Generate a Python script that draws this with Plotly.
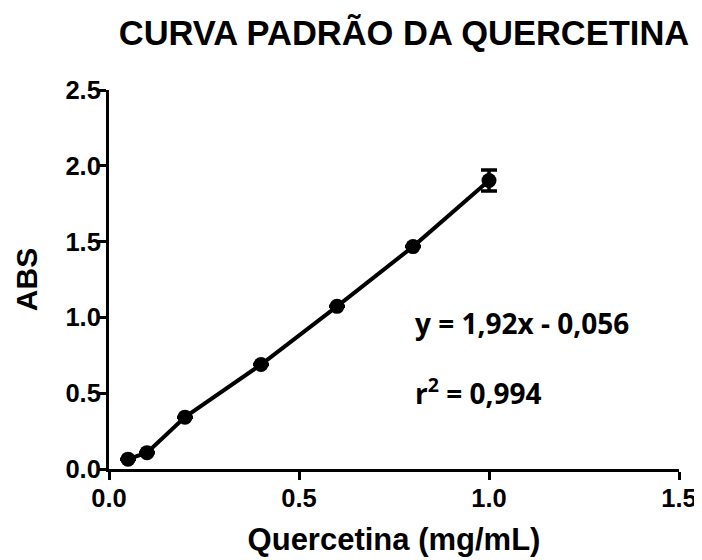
import plotly.graph_objects as go

conc = [0.05, 0.1, 0.2, 0.4, 0.6, 0.8, 1.0]
abs_vals = [0.065, 0.108, 0.342, 0.689, 1.073, 1.467, 1.903]
err = [0, 0, 0, 0, 0, 0, 0.07]
x_ticks = [0.0, 0.5, 1.0, 1.5]
x_labels = ["0.0", "0.5", "1.0", "1.5"]
y_ticks = [0.0, 0.5, 1.0, 1.5, 2.0, 2.5]
y_labels = ["0.0", "0.5", "1.0", "1.5", "2.0", "2.5"]

font = "Liberation Sans, Arial, sans-serif"

fig = go.Figure()
fig.add_trace(go.Scatter(
    x=conc, y=abs_vals, mode="lines+markers",
    line=dict(color="black", width=4),
    marker=dict(color="black", size=15),
    error_y=dict(type="data", array=err, color="black", thickness=3.5, width=8, visible=True),
    showlegend=False, cliponaxis=False,
))

axis_common = dict(
    showline=True, linecolor="black", linewidth=3,
    ticks="outside", ticklen=8, tickwidth=3, tickcolor="black",
    showgrid=False, zeroline=False, automargin=False,
    tickfont=dict(family=font, size=25.5, color="black", weight="bold"),
)

# page body has an 8px margin; the figure is sized to end at the window edge
W, H = 694, 552
fig.update_layout(
    width=W, height=H,
    paper_bgcolor="white", plot_bgcolor="white",
    margin=dict(l=101, r=23, t=82, b=91),
    title=dict(text="<b>CURVA PADRÃO DA QUERCETINA</b>", x=396 / W, xanchor="center",
               y=1 - 25 / H, yanchor="middle",
               font=dict(family=font, size=34.5, color="black")),
    xaxis=dict(range=[0, 1.5], tickvals=x_ticks, ticktext=x_labels, ticklabelstandoff=-4,
               title=dict(text="<b>Quercetina (mg/mL)</b>", font=dict(family=font, size=31, color="black"), standoff=18),
               **axis_common),
    yaxis=dict(range=[0, 2.5], tickvals=y_ticks, ticktext=y_labels, ticklabelstandoff=-8,
               title=dict(text="<b>ABS</b>", font=dict(family=font, size=30, color="black"), standoff=19),
               **axis_common),
)

fig.add_annotation(x=0.8, y=0.963, xref="x", yref="y", xanchor="left", yanchor="middle",
                   text="<b>y = 1,92x - 0,056</b>", showarrow=False,
                   font=dict(family="Open Sans, sans-serif", size=28, color="black"))
fig.add_annotation(x=0.8, y=0.508, xref="x", yref="y", xanchor="left", yanchor="middle",
                   text="<b>r<sup>2</sup> = 0,994</b>", showarrow=False,
                   font=dict(family="Open Sans, sans-serif", size=28, color="black"))

fig.write_html("out.html")
